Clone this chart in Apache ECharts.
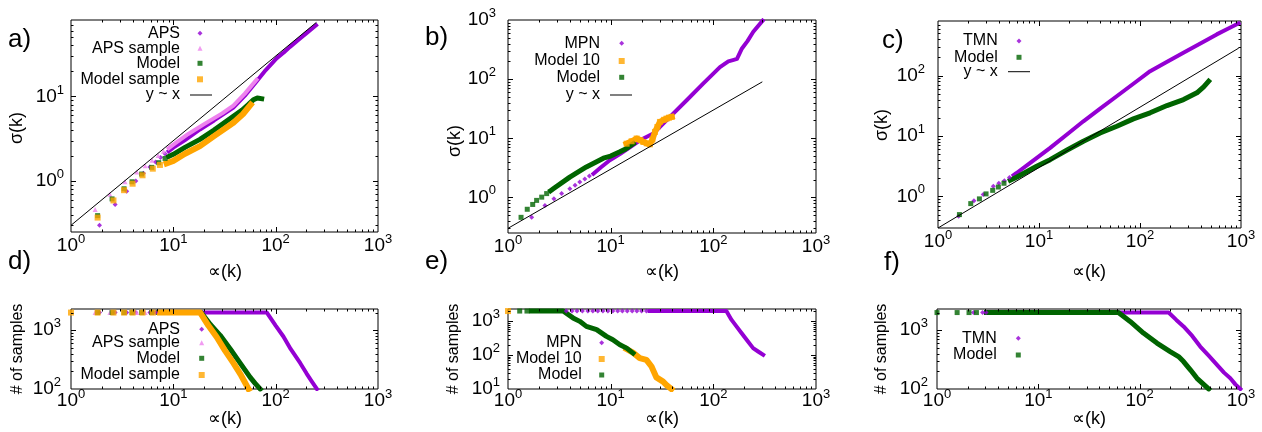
<!DOCTYPE html>
<html><head><meta charset="utf-8">
<script src="https://cdn.jsdelivr.net/npm/echarts@6.0.0/dist/echarts.min.js"></script>
<style>html,body{margin:0;padding:0;background:#fff;}#chart{width:1262px;height:432px;}</style>
</head><body><div id="chart"></div>
<script>
// ---------------- data ----------------
const xTickValues = [1, 10, 100, 1000];
const xRange = [1, 1000];
const yRangeA = [0.25, 80], yRangeB = [0.25, 1000], yRangeC = [0.3, 800];
const yRangeD = [100, 2300], yRangeE = [10, 2300], yRangeF = [100, 2300];

// panel a) sigma(k) vs alpha(k)
const aAPS_pts   = [[1.9,0.30],[2.7,0.53],[3.5,0.76],[4.3,1.0],[5.1,1.24],[5.9,1.47],[6.7,1.68],[7.5,1.9],[8.3,2.1]];
const aAPS_band  = [[9,2.25],[10,2.48],[13,3.05],[18.2,4.07],[25,5.2],[38.6,7.4],[50,10.2],[65,15.0],[80,20.5],[102,28.2],[120,33],[138,38.5],[173,48.3],[200,56],[248,69.2]];
const aAPSs_pts  = [[1.72,0.46],[2.4,0.70],[3.37,0.98],[4.4,1.28],[5.3,1.52],[6.2,1.76],[7.1,2.0],[8.0,2.25]];
const aAPSs_band = [[9,2.45],[10,2.7],[14,3.6],[20,4.7],[30,6.3],[38.6,7.8],[50,10.8],[65,15.7]];
const aModel_pts  = [[1.82,0.39],[2.52,0.615],[3.3,0.81],[3.95,0.98],[4.9,1.21],[6.15,1.45],[7.2,1.65],[8.3,1.85]];
const aModel_band = [[9,1.95],[10,2.07],[13,2.5],[18.2,3.11],[25,4.0],[38.6,5.83],[47,6.9],[54,8.0],[60.6,9.15],[66,9.6],[73,9.4]];
const aModelS_pts  = [[1.82,0.37],[2.6,0.59],[3.3,0.78],[4.0,0.93],[5.0,1.17],[6.3,1.4],[7.4,1.55]];
const aModelS_band = [[8.6,1.62],[10,1.73],[13,2.1],[18.2,2.59],[25,3.4],[38.6,4.88],[48,6.2],[57,8.0]];
const aLine = [[1,0.3],[250,75]];

// panel b)
const bMPN_pts  = [[1.7,0.46],[2.29,0.73],[2.8,0.95],[3.33,1.16],[4.0,1.4],[4.5,1.6],[5.0,1.82],[5.6,2.05],[6.2,2.3]];
const bMPN_band = [[6.8,2.52],[8,3.2],[9.8,4.24],[12.3,5.4],[15,6.8],[19.3,9.25],[26,12],[37.8,23],[55,44],[80,84.6],[116,160],[140,200],[155,210],[170,220],[190,330],[215,440],[245,632],[302,975]];
const bM10_band = [[14.3,8.1],[16,8.9],[17.9,9.9],[19.5,9.3],[20.8,8.65],[22.5,8.2],[24.1,7.9],[25.5,9.5],[27,12.8],[28.5,15.5],[30.2,18.9],[33,20.5],[35,21.5],[37,22.3],[39.3,23]];
const bModel_pts  = [[1.34,0.46],[1.54,0.63],[1.74,0.76],[1.9,0.89],[2.13,1.01],[2.38,1.16]];
const bModel_band = [[2.6,1.3],[2.76,1.4],[4.0,2.2],[5.8,3.27],[8.5,4.6],[10,5.0],[12.3,5.9],[14,6.6],[16.6,8.1]];
const bLine = [[1,0.3],[300,90]];

// panel c)
const cTMN_pts  = [[1.6,0.47],[2.27,0.85],[2.8,1.08],[3.53,1.47],[4.0,1.65],[4.54,1.82],[5.1,2.05]];
const cTMN_band = [[5.6,2.25],[6,2.44],[8,3.5],[12.9,6.35],[20,11.4],[27.5,17.5],[40,28],[58.8,45.5],[90,77.5],[126,118],[180,165],[269,239],[400,344],[575,480],[750,600],[945,731]];
const cModel_pts  = [[1.63,0.50],[2.11,0.76],[2.57,0.91],[2.99,1.1],[3.48,1.26],[3.96,1.43],[4.5,1.65]];
const cModel_band = [[5.2,1.85],[6.0,2.07],[9.5,3.15],[12.9,4.06],[18.8,5.8],[27.5,8.2],[40.3,11.2],[59,14.5],[86,19.2],[126,24.2],[185,31.9],[270,40.1],[366,51.9],[427,65.2],[478,80.7]];
const cLine = [[1,0.3],[950,285]];

// panel d) number of samples
const dAPS_pts   = [[1.9,2000],[2.7,2000],[3.5,2000],[4.3,2000],[5.1,2000],[5.9,2000],[6.7,2000]];
const dAPS_band  = [[7.5,2000],[82,2000],[100,1200],[119,783],[140,480],[174,275],[200,185],[225,135],[253,100]];
const dAPSs_pts  = [[1.72,2000],[2.4,2000],[3.37,2000],[4.4,2000],[5.3,2000]];
const dAPSs_band = [[6.2,2000],[18.5,2000],[23,1250],[28.7,820],[36,480],[45,276],[56,160],[65,115]];
const dModel_pts  = [[1.82,2000],[2.52,2000],[3.3,2000],[3.95,2000],[4.9,2000],[6.15,2000]];
const dModel_band = [[7.2,2000],[18.7,2000],[23,1250],[28.7,820],[36,480],[45,276],[56.4,158],[63,125],[70.7,100]];
const dModelS_pts  = [[1.0,2000],[1.82,2000],[2.6,2000],[3.3,2000],[4.0,2000],[5.0,2000],[6.3,2000]];
const dModelS_band = [[7.4,2000],[18.3,2000],[22,1200],[26.6,760],[32,450],[38.7,275],[46,170],[54.3,100]];

// panel e)
const eMPN_pts  = [[3.7,2000],[4.2,2000],[4.7,2000],[5.3,2000],[6.0,2000],[6.7,2000],[7.5,2000],[8.4,2000],[9.4,2000],[10.5,2000],[11.7,2000],[13.0,2000],[14.5,2000],[16.2,2000],[18.0,2000],[20.0,2000],[22.3,2000]];
const eMPN_band = [[24,2000],[134,2000],[150,1114],[168,706],[188,449],[211,284],[244,161],[273,128],[306,102]];
const eM10_pts  = [[1.0,2000]];
const eM10_band = [[14.3,150],[16.5,118],[19.2,81.5],[22.3,72.6],[25,46],[27.9,22],[32.4,16.5],[35,13],[39,10]];
const eModel_pts  = [[1.3,2000],[1.53,2000]];
const eModel_band = [[1.69,2000],[3.44,2000],[4.3,1254],[5.0,993],[5.8,706],[7.3,564],[9.1,357],[10.5,284],[12.3,202],[14.3,161],[16.5,115]];

// panel f)
const fTMN_pts  = [[2.29,2000],[2.82,2000],[3.05,2000]];
const fTMN_band = [[3.3,2000],[193,2000],[230,1500],[271,1161],[330,800],[396,528],[480,370],[580,257],[680,190],[785,152],[880,120],[986,100]];
const fModel_pts  = [[1.0,2000],[1.58,2000],[2.07,2000],[2.45,2000]];
const fModel_band = [[3.08,2000],[61.7,2000],[80.5,1413],[109,896],[148,604],[200,434],[242,357],[271,293],[318,210],[368,152],[480,100]];

// ---------------- styles & layout ----------------
const W = 1262;
const FONT = 'Liberation Sans, Arial, Helvetica, sans-serif';
const STY = {
  purple: {color:'#9400d3', symbol:'diamond', size:5, lw:4},
  pink:   {color:'#ee82ee', symbol:'triangle', size:5, lw:4},
  green:  {color:'#006400', symbol:'rect', size:5, lw:5},
  orange: {color:'#ffa500', symbol:'rect', size:6, lw:6}
};
const grids = [
  {left:71,  top:20,  width:307, height:212},
  {left:508, top:20,  width:308, height:213},
  {left:938, top:21,  width:303, height:207},
  {left:71,  top:309, width:307, height:80},
  {left:508, top:309, width:308, height:80},
  {left:937, top:309, width:304, height:80}
];
const yRanges = [yRangeA, yRangeB, yRangeC, yRangeD, yRangeE, yRangeF];
const xLabelMargin = [1,1,1,-1,-1,-1];
const yLabelMargin = [7,12,13,10,8,9];

const series = [];
function addGroup(gi, name, sty, pts, band) {
  if (pts && pts.length) series.push({type:'scatter', name:name, xAxisIndex:gi, yAxisIndex:gi, data:pts,
    symbol:sty.symbol, symbolSize:sty.size, itemStyle:{color:sty.color}, z:2});
  if (band && band.length) series.push({type:'line', name:name, xAxisIndex:gi, yAxisIndex:gi, data:band,
    showSymbol:false, symbol:sty.symbol, symbolSize:sty.size,
    lineStyle:{color:sty.color, width:sty.lw, join:'round', cap:'square'}, itemStyle:{color:sty.color}, z:2});
}
function addRef(gi, data) {
  series.push({type:'line', name:'y ~ x', xAxisIndex:gi, yAxisIndex:gi, data:data, symbol:'none',
    lineStyle:{color:'#000', width:1}, itemStyle:{color:'#000'}, z:3});
}
// a
addGroup(0,'APS',STY.purple,aAPS_pts,aAPS_band);
addGroup(0,'APS sample',STY.pink,aAPSs_pts,aAPSs_band);
addGroup(0,'Model',STY.green,aModel_pts,aModel_band);
addGroup(0,'Model sample',STY.orange,aModelS_pts,aModelS_band);
addRef(0,aLine);
// b
addGroup(1,'MPN',STY.purple,bMPN_pts,bMPN_band);
addGroup(1,'Model 10',STY.orange,bM10_band,bM10_band);
addGroup(1,'Model',STY.green,bModel_pts,bModel_band);
addRef(1,bLine);
// c
addGroup(2,'TMN',STY.purple,cTMN_pts,cTMN_band);
addGroup(2,'Model',STY.green,cModel_pts,cModel_band);
addRef(2,cLine);
// d
addGroup(3,'APS',STY.purple,dAPS_pts,dAPS_band);
addGroup(3,'APS sample',STY.pink,dAPSs_pts,dAPSs_band);
addGroup(3,'Model',STY.green,dModel_pts,dModel_band);
addGroup(3,'Model sample',STY.orange,dModelS_pts,dModelS_band);
// e
addGroup(4,'MPN',STY.purple,eMPN_pts,eMPN_band);
addGroup(4,'Model 10',STY.orange,eM10_pts,eM10_band);
addGroup(4,'Model',STY.green,eModel_pts,eModel_band);
// f
addGroup(5,'TMN',STY.purple,fTMN_pts,fTMN_band);
addGroup(5,'Model',STY.green,fModel_pts,fModel_band);

// tick marks (major at decades, minor at 2..9 x decade) on all four sides, mirrored like gnuplot
function tickValues(range) {
  const out = [];
  const lo = Math.floor(Math.log10(range[0])), hi = Math.ceil(Math.log10(range[1]));
  for (let e = lo; e <= hi; e++) {
    for (let m = 1; m <= 9; m++) {
      const v = m * Math.pow(10, e);
      if (v > range[0] * 1.0001 && v < range[1] * 0.9999) out.push([v, m === 1 ? 1 : 0]);
    }
  }
  return out;
}
const TICK_MAJOR = 5, TICK_MINOR = 2.5;
for (let gi = 0; gi < 6; gi++) {
  const yr = yRanges[gi];
  const data = [];
  tickValues(xRange).forEach(t => data.push([t[0], yr[0], 0, t[1]]));
  tickValues(yr).forEach(t => data.push([xRange[0], t[0], 1, t[1]]));
  series.push({type:'custom', xAxisIndex:gi, yAxisIndex:gi, silent:true, z:10, clip:false,
    encode:{x:0, y:1}, data:data,
    renderItem:function(params, api){
      const cs = params.coordSys;
      const kind = api.value(2), major = api.value(3);
      const p = api.coord([api.value(0), api.value(1)]);
      const L = major ? TICK_MAJOR : TICK_MINOR;
      const st = {stroke:'#000', lineWidth:1};
      if (kind === 0) {
        const x = Math.round(p[0]) + 0.5;
        return {type:'group', children:[
          {type:'line', shape:{x1:x, y1:cs.y+cs.height, x2:x, y2:cs.y+cs.height-L}, style:st},
          {type:'line', shape:{x1:x, y1:cs.y, x2:x, y2:cs.y+L}, style:st}]};
      }
      const y = Math.round(p[1]) + 0.5;
      return {type:'group', children:[
        {type:'line', shape:{x1:cs.x, y1:y, x2:cs.x+L, y2:y}, style:st},
        {type:'line', shape:{x1:cs.x+cs.width, y1:y, x2:cs.x+cs.width-L, y2:y}, style:st}]};
    }});
}

function powLabel(v) {
  const l = Math.log10(v), e = Math.round(l);
  if (Math.abs(l - e) > 1e-6) return '';
  return '{b|10}{s|' + e + '}';
}
const rich = {
  b: {fontSize:19, lineHeight:26, color:'#000', fontFamily:FONT},
  s: {fontSize:13, lineHeight:13, verticalAlign:'top', color:'#000', fontFamily:FONT}
};

const xAxes = [], yAxes = [];
for (let gi = 0; gi < 6; gi++) {
  xAxes.push({type:'log', logBase:10, gridIndex:gi, min:xRange[0], max:xRange[1],
    axisLine:{show:false}, axisTick:{show:false}, splitLine:{show:false},
    axisLabel:{formatter:powLabel, rich:rich, margin:xLabelMargin[gi], color:'#000'}});
  yAxes.push({type:'log', logBase:10, gridIndex:gi, min:yRanges[gi][0], max:yRanges[gi][1],
    axisLine:{show:false}, axisTick:{show:false}, splitLine:{show:false},
    axisLabel:{formatter:powLabel, rich:rich, margin:yLabelMargin[gi], color:'#000'}});
}

// legends: gnuplot style, text right-aligned, sample to the right
function legendEntry(name, textRight, cx, cy, size, lineL, lineR) {
  let iconW, iconH, left, extra = {};
  if (lineL != null) {
    left = lineL; iconW = lineR - lineL; iconH = 1;
    extra = {icon:'rect', symbolKeepAspect:false, itemStyle:{color:'#000'}};
  } else {
    iconW = size; iconH = size; left = cx - size / 2;
  }
  const gap = Math.max(0, left - 5 - textRight);
  return Object.assign({data:[name], right: W - (left + iconW), top: cy - 8, align:'right', orient:'horizontal',
    padding:0, itemGap:0, itemWidth:iconW, itemHeight:iconH, selectedMode:false,
    textStyle:{fontSize:16, fontFamily:FONT, color:'#000', lineHeight:16, padding:[0,gap,0,0]}}, extra);
}
const legends = [
  legendEntry('APS',180,200,33.3,5), legendEntry('APS sample',180,200,48.3,5), legendEntry('Model',180,200,63.3,5),
  legendEntry('Model sample',180,200,79.3,6), legendEntry('y ~ x',180,null,95,0,190,212),
  legendEntry('MPN',600,621.7,43.3,5), legendEntry('Model 10',600,621.7,61,6), legendEntry('Model',600,621.7,77.3,5),
  legendEntry('y ~ x',600,null,95,0,610,632),
  legendEntry('TMN',997.7,1019,41,5), legendEntry('Model',997.7,1019,57.3,5), legendEntry('y ~ x',997.7,null,71.7,0,1008,1030),
  legendEntry('APS',180,201.7,329.3,5), legendEntry('APS sample',180,201.7,342.7,5), legendEntry('Model',180,201.7,358.3,5),
  legendEntry('Model sample',180,201.7,375,6),
  legendEntry('MPN',581.7,601.7,342.7,5), legendEntry('Model 10',581.7,601.7,359,6), legendEntry('Model',581.7,601.7,375,5),
  legendEntry('TMN',996.7,1018.3,338.3,5), legendEntry('Model',996.7,1018.3,355,5)
];

// texts: panel letters, axis titles
const panelLetters = [['a)',8,40],['b)',425,38],['c)',882,41],['d)',8,262],['e)',425,262],['f)',884,263]];
const yTitles = [['σ(k)',17,128],['σ(k)',455,141],['σ(k)',882,125],['# of samples',18,349],['# of samples',454,349],['# of samples',882,349]];
const xTitles = [['∝(k)',225,272],['∝(k)',662,272],['∝(k)',1089,272],['∝(k)',225,419],['∝(k)',662,419],['∝(k)',1089,419]];
const graphic = [];
panelLetters.forEach(t => graphic.push({type:'text', x:t[1], y:t[2], style:{text:t[0], fontSize:26, fontFamily:FONT, fill:'#000', textAlign:'left', textVerticalAlign:'middle'}}));
yTitles.forEach((t, i) => graphic.push({type:'text', x:t[1], y:t[2], rotation:Math.PI/2, style:{text:t[0], fontSize: i < 3 ? 18 : 16, fontFamily:FONT, fill:'#000', textAlign:'center', textVerticalAlign:'middle'}}));
xTitles.forEach(t => graphic.push({type:'text', x:t[1], y:t[2], style:{text:t[0], fontSize:18, fontFamily:FONT, fill:'#000', textAlign:'center', textVerticalAlign:'middle'}}));

const chart = echarts.init(document.getElementById('chart'), null, {renderer:'canvas'});
chart.setOption({
  animation:false,
  backgroundColor:'#fff',
  textStyle:{fontFamily:FONT},
  grid: grids.map(g => Object.assign({show:true, borderColor:'#000', borderWidth:1, backgroundColor:'transparent'}, g)),
  xAxis:xAxes, yAxis:yAxes,
  legend:legends,
  graphic:graphic,
  series:series
});
</script></body></html>
